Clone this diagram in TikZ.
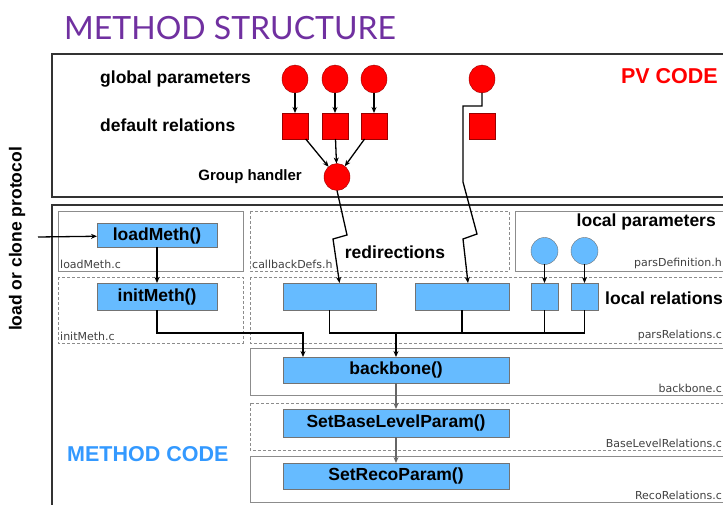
\documentclass[tikz,border=0pt]{standalone}
\usepackage{fontspec}
\setmainfont{Liberation Sans}
\newfontfamily\filefont{DejaVu Sans}
\newfontfamily\titlefont{Lato}
\usetikzlibrary{arrows.meta, positioning, shapes.geometric}

\definecolor{pvred}{RGB}{255,0,0}
\definecolor{methblue}{RGB}{102,187,255}
\definecolor{codeblue}{RGB}{51,153,255}
\definecolor{titlepurple}{RGB}{112,48,160}

\begin{document}
\begin{tikzpicture}[
        x=1pt, y=-1pt,
        >={Stealth[length=6pt, width=5pt]},
        frame/.style={draw=black!80, line width=1.4pt},
        srcfile/.style={draw=black!45, line width=0.8pt},
        hdrfile/.style={srcfile, dash pattern=on 3pt off 2pt},
        gpar/.style={ellipse, draw=red!60!black, fill=pvred, minimum width=26pt, minimum height=28pt, inner sep=0pt, outer sep=0pt},
        drel/.style={rectangle, draw=red!60!black, fill=pvred, minimum size=26pt, inner sep=0pt, outer sep=0pt},
        lpar/.style={circle, draw=black!55, fill=methblue, minimum size=27pt, inner sep=0pt, outer sep=0pt},
        func/.style={rectangle, draw=black!55, fill=methblue, minimum height=27pt, inner sep=0pt, outer sep=0pt, font=\fontsize{17.5}{20}\selectfont\bfseries},
        lbl/.style={font=\fontsize{17.5}{20}\selectfont\bfseries, inner sep=0pt},
        fname/.style={font=\filefont\fontsize{11}{13}\selectfont, text=black!75, inner sep=1pt},
        wire/.style={line width=1.3pt}
      ]

      \useasboundingbox (0,0) rectangle (723,505);

      % Title
      \node[font=\titlefont\fontsize{32}{36}\selectfont, text=titlepurple, anchor=west, inner sep=0pt] (title) at (64,28) {METHOD STRUCTURE};

      % Outer frames
      \draw[frame] (52,54) rectangle (745,197);
      \draw[frame] (52,205) rectangle (745,520);

      \node[font=\fontsize{21.5}{24}\selectfont\bfseries, text=pvred, anchor=east, inner sep=0pt] (pvcode) at (718,76) {PV CODE};
      \node[font=\fontsize{21.5}{24}\selectfont\bfseries, text=codeblue, anchor=west, inner sep=0pt] (methcode) at (67,454) {METHOD CODE};
      \node[lbl, rotate=90] (protocol) at (17,239) {load or clone protocol};

      % PV code - global parameters and default relations
      \node[lbl, anchor=west] (glabel) at (100,79) {global parameters};
      \node[lbl, anchor=west] (dlabel) at (100,125) {default relations};

      \node[gpar] (g1) at (295,79) {};
      \node[gpar, right=14pt of g1] (g2) {};
      \node[gpar, right=13pt of g2] (g3) {};
      \node[gpar] (g4) at (482,79) {};

      \node[drel, below=20pt of g1] (d1) {};
      \node[drel, below=20pt of g2] (d2) {};
      \node[drel, below=20pt of g3] (d3) {};
      \node[drel, below=20pt of g4] (d4) {};

      % Group handler
      \node[gpar, minimum width=26pt, minimum height=27pt] (gh) at (337,177) {};
      \node[lbl, font=\fontsize{15}{18}\selectfont\bfseries, left=22pt of gh] (ghlabel) {Group handler};

      % Source files
      \draw[srcfile] (58,211) rectangle (243,271);
      \draw[hdrfile] (250,211) rectangle (509,271);
      \draw[srcfile] (515,211) rectangle (745,271);
      \draw[hdrfile] (58,277) rectangle (243,343);
      \draw[hdrfile] (250,277) rectangle (745,343);
      \draw[srcfile] (250,348) rectangle (745,395);
      \draw[hdrfile] (250,403) rectangle (745,450);
      \draw[srcfile] (250,456) rectangle (745,502);

      \node[fname, anchor=south west] (f1) at (59,270) {loadMeth.c};
      \node[fname, anchor=south west] (f2) at (251,270) {callbackDefs.h};
      \node[fname, anchor=south east] (f3) at (723,270) {parsDefinition.h};
      \node[fname, anchor=south west] (f4) at (59,342) {initMeth.c};
      \node[fname, anchor=south east] (f5) at (723,342) {parsRelations.c};
      \node[fname, anchor=south east] (f6) at (723,394) {backbone.c};
      \node[fname, anchor=south east] (f7) at (723,449) {BaseLevelRelations.c};
      \node[fname, anchor=south east] (f8) at (723,501) {RecoRelations.c};

      % Method code - functions
      \node[func, minimum width=120pt, minimum height=24pt] (load) at (157,235.5) {loadMeth()};
      \node[func, minimum width=120pt] (init) at (157,296.5) {initMeth()};

      \node[lbl] (redir) at (395,252) {redirections};
      \node[func, minimum width=93pt] (r1) at (329.5,296.5) {};
      \node[func, minimum width=94pt] (r2) at (462,296.5) {};

      % Local parameters and relations
      \node[lbl, anchor=east] (lplabel) at (716,222) {local parameters};
      \node[lpar] (c1) at (544.5,251) {};
      \node[lpar] (c2) at (584.5,251) {};
      \node[func, minimum width=27pt] (l1) at (544.5,296.5) {};
      \node[func, minimum width=27pt] (l2) at (584.5,296.5) {};
      \node[lbl, anchor=west] (lrlabel) at (605,298) {local relations};

      \node[func, minimum width=226pt, minimum height=26pt] (bb) at (396,370) {backbone()};
      \node[func, minimum width=226pt, minimum height=28pt] (base) at (396,423) {SetBaseLevelParam()};
      \node[func, minimum width=226pt, minimum height=26pt] (reco) at (396,476) {SetRecoParam()};

      % Helper points
      \coordinate (entry) at (38,237);
      \coordinate (join) at (303,333);
      \coordinate (bus) at (396,333);

      % Connections
      \draw[wire, ->] (g1) -- (d1);
      \draw[wire, ->] (g2) -- (d2);
      \draw[wire, ->] (g3) -- (d3);
      \draw[wire, ->] (d1) -- (gh);
      \draw[wire, ->] (d2) -- (gh);
      \draw[wire, ->] (d3) -- (gh);

      % Redirections
      \draw[wire, ->] (gh.south) -- (347,235) -- (333,239) -- ([xshift=10pt]r1.north);
      \draw[wire, ->] (g4.south) -- ++(0,13) -| (463,182) -- (477,234) -- (463,239) -- ([xshift=6pt]r2.north);

      \draw[wire, ->] (entry) -- (load);
      \draw[wire, ->] (load) -- (init);
      \draw[wire, ->] (init.south) |- (join) -- (join |- bb.north);

      \draw[wire, ->] (c1) -- (l1);
      \draw[wire, ->] (c2) -- (l2);

      \draw[wire] (r1.south) |- (bus);
      \draw[wire] (r2.south) -- (r2.south |- bus);
      \draw[wire] (l1.south) -- (l1.south |- bus);
      \draw[wire] (l2.south) |- (bus);
      \draw[wire, ->] (bus) -- (bb.north);

      \draw[wire, draw=black!60, ->] (bb) -- (base);
      \draw[wire, draw=black!60, ->] (base) -- (reco);

      \end{tikzpicture}
\end{document}
